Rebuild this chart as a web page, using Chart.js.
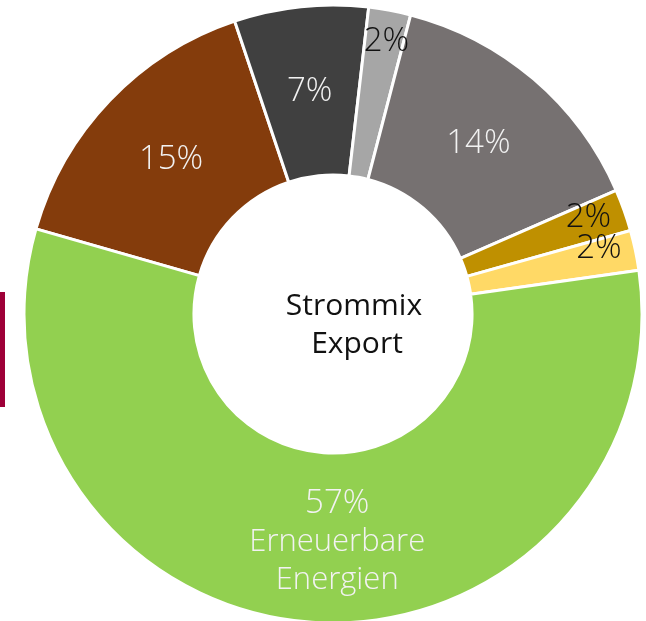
<!DOCTYPE html>
<html>
<head>
<meta charset="utf-8">
<script src="https://cdn.jsdelivr.net/npm/chart.js@4/dist/chart.umd.min.js"></script>
<style>
  html, body { margin: 0; padding: 0; background: #fff; }
  #wrap { position: relative; width: 646px; height: 621px; overflow: hidden; }
  #bar { position: absolute; left: 0; top: 292px; width: 5px; height: 115px; background: #9e0038; }
</style>
</head>
<body>
<div id="wrap">
  <canvas id="myChart" width="646" height="621"></canvas>
  <div id="bar"></div>
</div>
<script>
const kategorien = ['Braunkohle', 'Steinkohle', 'Öl', 'Kernenergie', 'Erdgas', 'Sonstige', 'Erneuerbare Energien'];
const anteile = [15.4, 7.0, 2.2, 14.4, 2.2, 2.1, 56.7];
const zeigeName = [false, false, false, false, false, false, true];

const farben = ['#843c0c', '#404040', '#a6a6a6', '#767171', '#bf9000', '#ffd966', '#92d050'];
const textFarben = ['#f2f2f2', '#f2f2f2', '#111111', '#f2f2f2', '#111111', '#111111', '#f2f2f2'];
// Radius (null = Ringmitte) und Winkelkorrektur in Grad je Beschriftung
const labelLage = [
    { r: null, da: 0 },
    { r: null, da: 0 },
    { r: 278, da: 0.5 },
    { r: null, da: 0 },
    { r: 273, da: -1 },
    { r: 274, da: -2 },
    { r: 228, da: -5 }
];

const schrift = '"Open Sans", "DejaVu Sans", sans-serif';

const beschriftung = {
    id: 'beschriftung',
    afterDatasetsDraw(chart) {
        const ctx = chart.ctx;
        const meta = chart.getDatasetMeta(0);
        ctx.save();
        ctx.textAlign = 'center';
        ctx.textBaseline = 'middle';
        meta.data.forEach((arc, i) => {
            const p = arc.getProps(['x', 'y', 'startAngle', 'endAngle', 'innerRadius', 'outerRadius'], true);
            const lage = labelLage[i];
            const a = (p.startAngle + p.endAngle) / 2 + lage.da * Math.PI / 180;
            const r = lage.r != null ? lage.r : (p.innerRadius + p.outerRadius) / 2;
            const lx = p.x + Math.cos(a) * r;
            const ly = p.y + Math.sin(a) * r;
            const zeilen = [Math.round(anteile[i]) + '%'];
            if (zeigeName[i]) {
                kategorien[i].split(' ').forEach(w => zeilen.push(w));
            }
            ctx.fillStyle = textFarben[i];
            const h = 38;
            const y0 = ly - (zeilen.length - 1) * h / 2;
            zeilen.forEach((z, k) => {
                ctx.font = '300 ' + (k === 0 ? '33px ' : '31px ') + schrift;
                ctx.fillText(z, lx, y0 + k * h);
            });
        });

        // Mitte
        const c = meta.data[0];
        ctx.fillStyle = '#111111';
        ctx.textBaseline = 'alphabetic';
        ctx.font = '400 30px ' + schrift;
        ctx.fillText('Strommix', c.x + 21, c.y + 1);
        ctx.fillText('Export', c.x + 24, c.y + 39);
        ctx.restore();
    }
};

const config = {
    type: 'doughnut',
    data: {
        labels: kategorien,
        datasets: [{
            data: anteile,
            backgroundColor: farben,
            borderColor: '#ffffff',
            borderWidth: 3,
            radius: 309,
            cutout: '45%'
        }]
    },
    options: {
        responsive: false,
        animation: false,
        rotation: 286,
        layout: {
            padding: { left: 20, right: 0, top: 7, bottom: 0 }
        },
        plugins: {
            legend: { display: false },
            title: { display: false },
            tooltip: { enabled: false }
        }
    },
    plugins: [beschriftung]
};

const ctx = document.getElementById('myChart').getContext('2d');
new Chart(ctx, config);
</script>
</body>
</html>
